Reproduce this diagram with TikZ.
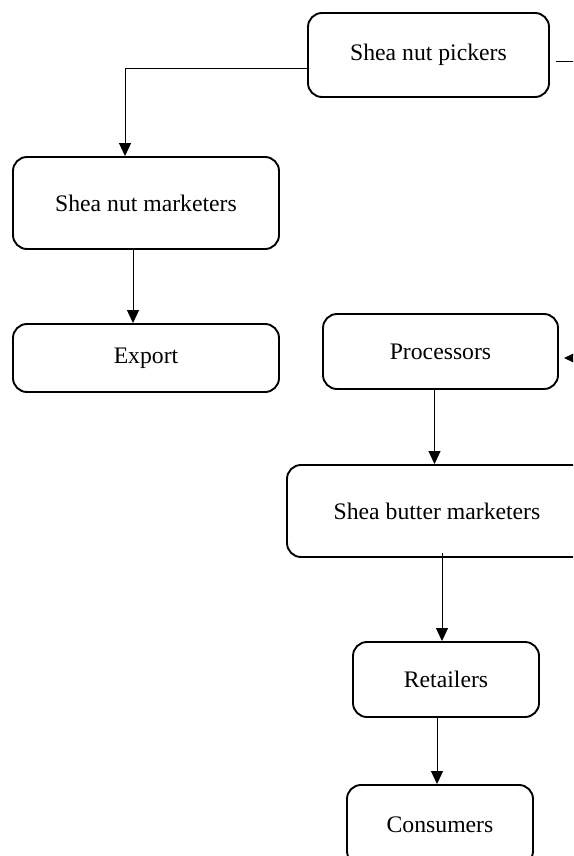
\documentclass[tikz,border=0pt]{standalone}
\usepackage{fontspec}
\setmainfont{Liberation Serif}
\usetikzlibrary{arrows.meta}
\begin{document}
\begin{tikzpicture}[x=1pt,y=-1pt,
  box/.style={draw,line width=1.9pt,rounded corners=14pt,inner sep=0pt,
    font=\fontsize{23.7pt}{28pt}\selectfont},
  arr/.style={line width=1pt,-{Triangle[width=12pt,length=13pt]}}]
  \clip (0,0) rectangle (573,856);
  % boxes
  \node[box,minimum width=241pt,minimum height=84pt] (pickers) at (428.5,55) {Shea nut pickers};
  \node[box,minimum width=266pt,minimum height=92pt] (nutmkt) at (146,203) {Shea nut marketers};
  \node[box,minimum width=266pt,minimum height=68pt] (export) at (146,358) {Export};
  \node[box,minimum width=235pt,minimum height=75pt] (proc) at (440.5,351.5) {Processors};
  \node[box,minimum width=300pt,minimum height=92pt] (buttermkt) at (437,511) {Shea butter marketers};
  \node[box,minimum width=186pt,minimum height=75pt] (retail) at (446,679.5) {Retailers};
  \node[box,minimum width=186pt,minimum height=80pt] (cons) at (440,825) {Consumers};
  % connectors
  \coordinate (c1) at (125,69);
  \coordinate (c2) at (600,62);
  \coordinate (c3) at (600,358);
  \draw[line width=1pt] (pickers.west |- c1) -- (c1);
  \draw[arr] (c1) -- (c1 |- nutmkt.north);
  \draw[line width=1pt] ([xshift=6pt]pickers.east |- c2) -- (c2) -- (c3);
  \draw[arr,shorten >=5pt] (c3) -- (proc.east |- c3);
  \draw[arr] ([xshift=-13pt,yshift=2pt]nutmkt.south) -- ([xshift=-13pt]export.north);
  \draw[arr] ([xshift=-6pt,yshift=2pt]proc.south) -- ([xshift=-6pt]proc.south |- buttermkt.north);
  \draw[arr] ([xshift=5pt,yshift=5pt]buttermkt.south) -- ([xshift=5pt]buttermkt.south |- retail.north);
  \draw[arr] ([xshift=-9pt]retail.south) -- ([xshift=-3pt]cons.north);
\end{tikzpicture}
\end{document}
